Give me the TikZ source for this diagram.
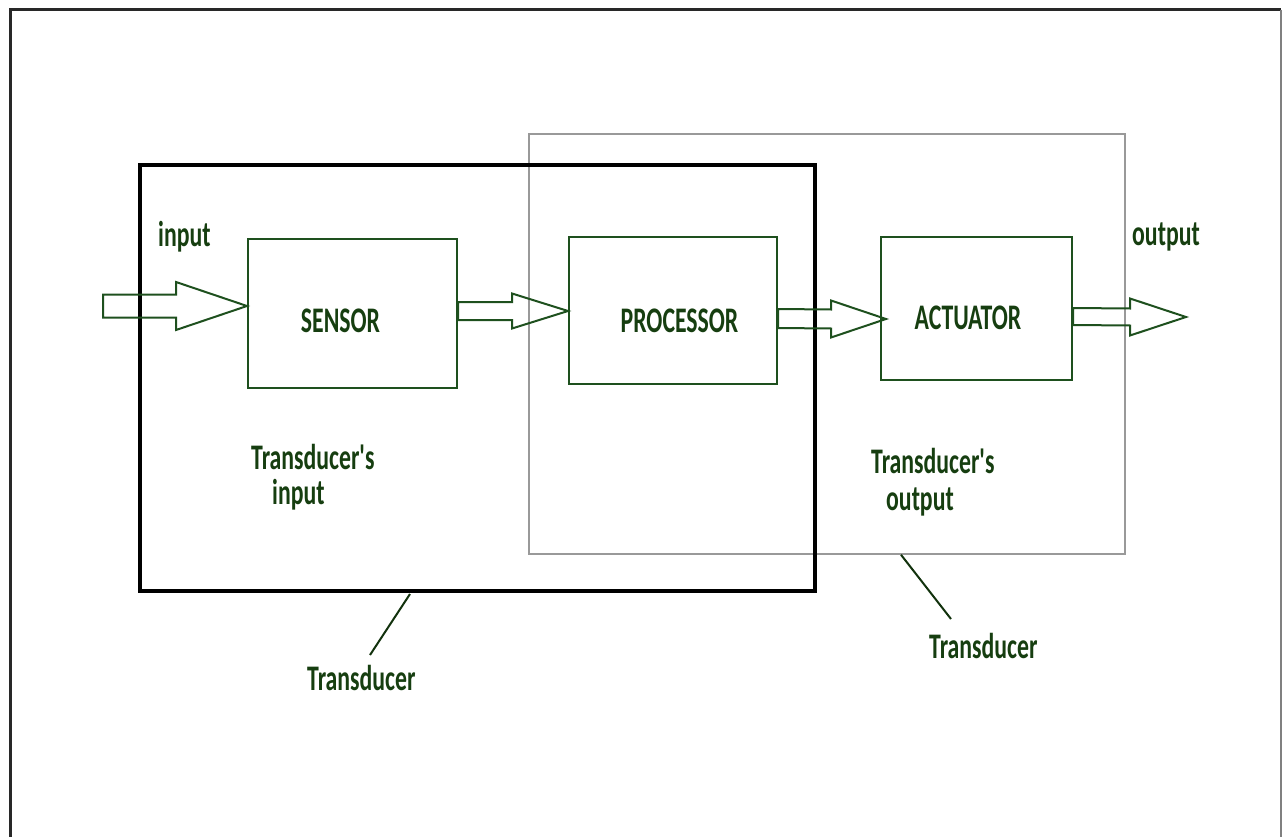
\documentclass[tikz,border=0pt]{standalone}
\usepackage{fontspec}
\newfontfamily\lblfont[FakeStretch=0.66]{Carlito}
\usetikzlibrary{calc}
\definecolor{txtgreen}{RGB}{22,62,16}
\definecolor{linegreen}{RGB}{30,80,30}
\definecolor{framegray}{RGB}{40,40,40}
\newcommand{\blockarrow}[5]{% start, tip, shaft half, head half, head length
  \draw[blockarr] ($(#1)+(0,-#3)$) -- ($(#2)+(-#5,-#3)$) -- ($(#2)+(-#5,-#4)$) -- (#2)
    -- ($(#2)+(-#5,#4)$) -- ($(#2)+(-#5,#3)$) -- ($(#1)+(0,#3)$) -- cycle;}
\begin{document}
\begin{tikzpicture}[x=1pt,y=-1pt,
  lbl/.style={font=\lblfont\bfseries\fontsize{36}{42}\selectfont, text=txtgreen, inner sep=0pt},
  blockbox/.style={draw=linegreen, line width=2pt, inner sep=0pt},
  blockarr/.style={draw=linegreen, line width=2pt, line join=miter},
  leader/.style={draw=txtgreen!80!black, line width=2pt}]
\useasboundingbox (0,0) rectangle (1282,837);
% page frame
\draw[framegray, line width=3pt] (10,845) -- (10,10) -- (1281,10);
\draw[gray, line width=2pt] (1281,10) -- (1281,845);
% transducer enclosures
\node[draw=gray!80, line width=1.5pt, minimum width=596pt, minimum height=420pt, inner sep=0pt] (tout) at (827,344) {};
\node[draw=black, line width=4pt, minimum width=675pt, minimum height=426pt, inner sep=0pt] (tin) at (477.5,378) {};
% blocks
\node[blockbox, minimum width=209pt, minimum height=149pt] (sensor) at (352.5,313.5) {};
\node[blockbox, minimum width=208pt, minimum height=147pt] (proc) at (673,310.5) {};
\node[blockbox, minimum width=191pt, minimum height=143pt] (act) at (976.5,308.5) {};
\node[lbl, anchor=base] (sensorlbl) at (340.5,332) {SENSOR};
\node[lbl, anchor=base] (proclbl) at (679.5,332) {PROCESSOR};
\node[lbl, anchor=base] (actlbl) at (968,329) {ACTUATOR};
% arrows
\coordinate (in) at (103,306);
\coordinate (out) at (1186,317);
\coordinate (t1) at ($(sensor.west)+(0,-7.5)$);
\blockarrow{in}{t1}{11.5}{24}{71}
\coordinate (s2) at ($(sensor.east)+(0,-2.5)$);
\coordinate (t2) at ($(proc.west)+(0,0.5)$);
\blockarrow{s2}{t2}{9}{17.5}{56}
\coordinate (s3) at ($(proc.east)+(0,8)$);
\coordinate (t3) at ($(act.west)+(6,10.5)$);
\blockarrow{s3}{t3}{9.5}{18.5}{55}
\coordinate (s4) at ($(act.east)+(0,8)$);
\blockarrow{s4}{out}{8.5}{18.5}{56}
% labels
\node[lbl, anchor=base west] (inlbl) at (158,247) {input};
\node[lbl, anchor=base west] (outlbl) at (1132,245) {output};
\node[lbl, anchor=base west] (tinlbl1) at (251,469) {Transducer's};
\node[lbl, anchor=base west] (tinlbl2) at (272,504) {input};
\node[lbl, anchor=base west] (toutlbl1) at (871,473) {Transducer's};
\node[lbl, anchor=base west] (toutlbl2) at (886,510) {output};
\node[lbl, anchor=base west] (tinname) at (307,690) {Transducer};
\node[lbl, anchor=base west] (toutname) at (929,658) {Transducer};
% leader lines
\coordinate (l1) at (370,655);
\coordinate (l2) at (951,619);
\draw[leader] ($(tin.south)+(-67.5,1)$) -- (l1);
\draw[leader] ($(tout.south)+(74,0)$) -- (l2);
\end{tikzpicture}
\end{document}
